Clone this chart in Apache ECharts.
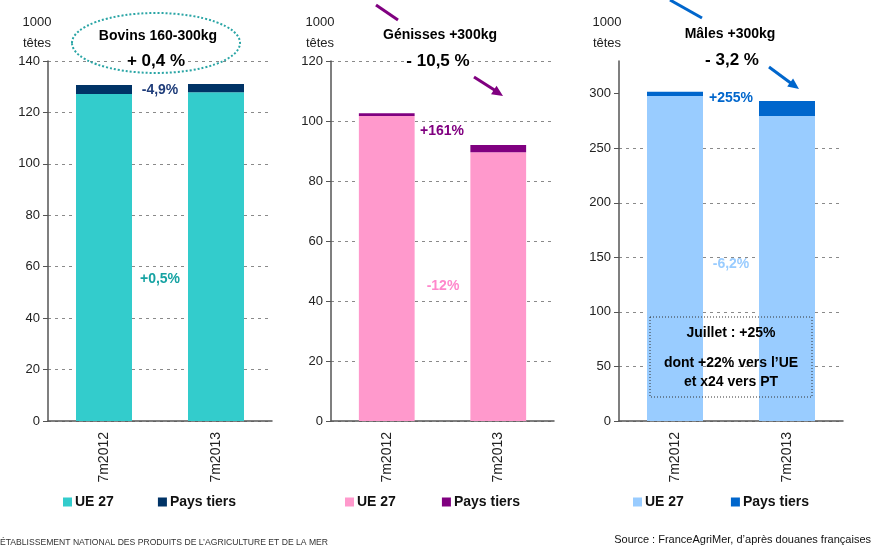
<!DOCTYPE html>
<html>
<head>
<meta charset="utf-8">
<script src="https://cdn.jsdelivr.net/npm/echarts@6/dist/echarts.min.js"></script>
<style>
html,body{margin:0;padding:0;background:#fff;}
#c{width:871px;height:547px;}
</style>
</head>
<body>
<div id="c"></div>
<script>
// valeurs (1000 têtes)
var categories = ['7m2012', '7m2013'];
var bovinsUE = [127.2, 127.8];
var bovinsPT = [3.5, 3.3];
var genissesUE = [101.7, 89.6];
var genissesPT = [0.9, 2.4];
var malesUE = [298, 279.5];
var malesPT = [3.9, 13.8];

var F = 'Liberation Sans, Arial, sans-serif';
var colUE = ['#33CCCC', '#FF99CC', '#99CCFF'];
var colPT = ['#003366', '#800080', '#0066CC'];
var legendNames = {ue0: 'UE 27', pt0: 'Pays tiers', ue1: 'UE 27', pt1: 'Pays tiers', ue2: 'UE 27', pt2: 'Pays tiers'};

var grids = [
  {left: 48, right: 599, top: 61, bottom: 126},
  {left: 331, right: 317, top: 61, bottom: 126},
  {left: 619, right: 28, top: 61, bottom: 126}
];

function xAx(i) {
  return {
    type: 'category', gridIndex: i, data: categories,
    axisLine: {lineStyle: {color: '#555', width: 1.5}},
    axisTick: {length: 5, lineStyle: {color: '#555'}},
    axisLabel: {rotate: 90, margin: 11, color: '#222', fontFamily: F, fontSize: 14}
  };
}
function yAx(i, max, interval) {
  return {
    type: 'value', gridIndex: i, min: 0, max: max, interval: interval,
    axisLine: {show: true, lineStyle: {color: '#555', width: 1.5}},
    axisTick: {show: true, length: 5, lineStyle: {color: '#555'}},
    axisLabel: {margin: 8, color: '#222', fontFamily: F, fontSize: 13},
    splitLine: {show: true, lineStyle: {color: '#8a8a8a', type: [3, 4], width: 1}}
  };
}

// axe des mâles : 0-330, sans graduation au sommet
var y2 = yAx(2, 330, 50);
y2.axisLabel.showMaxLabel = false;
y2.splitLine.showMaxLine = false;
y2.axisTick.customValues = [0, 50, 100, 150, 200, 250, 300];

function bars(i, ue, pt) {
  return [
    {name: 'ue' + i, type: 'bar', stack: 's' + i, xAxisIndex: i, yAxisIndex: i, data: ue,
     barWidth: '50%', itemStyle: {color: colUE[i]}},
    {name: 'pt' + i, type: 'bar', stack: 's' + i, xAxisIndex: i, yAxisIndex: i, data: pt,
     barWidth: '50%', itemStyle: {color: colPT[i]}}
  ];
}

function leg(i, left, gap) {
  return {
    left: left, top: 490, data: ['ue' + i, 'pt' + i], icon: 'rect',
    itemWidth: 9, itemHeight: 9, itemGap: gap, selectedMode: false,
    formatter: function (n) { return legendNames[n]; },
    textStyle: {fontFamily: F, fontSize: 14, fontWeight: 'bold', color: '#111', padding: [0, 0, 0, -2]}
  };
}

function txt(x, y, s, size, color, weight, bg) {
  var st = {text: s, x: 0, y: 0, align: 'center', verticalAlign: 'middle',
    font: (weight || 'bold') + ' ' + size + 'px ' + F, fill: color};
  if (bg) { st.backgroundColor = '#fff'; st.padding = [0, 2]; }
  return {type: 'text', x: x, y: y, z: 100, style: st};
}
function seg(x1, y1, x2, y2, c) {
  return {type: 'line', z: 100, shape: {x1: x1, y1: y1, x2: x2, y2: y2}, style: {stroke: c, lineWidth: 3}};
}
function head(x1, y1, x2, y2, c) {
  var a = Math.atan2(y2 - y1, x2 - x1), L = 11, W = 5;
  var bx = x2 - L * Math.cos(a), by = y2 - L * Math.sin(a);
  return {type: 'polygon', z: 100, shape: {points: [[x2, y2],
    [bx + W * Math.sin(a), by - W * Math.cos(a)], [bx - W * Math.sin(a), by + W * Math.cos(a)]]},
    style: {fill: c}};
}

var graphics = [
  txt(37, 22, '1000', 13, '#222', 'normal'), txt(37, 43, 'têtes', 13, '#222', 'normal'),
  txt(320, 22, '1000', 13, '#222', 'normal'), txt(320, 43, 'têtes', 13, '#222', 'normal'),
  txt(607, 22, '1000', 13, '#222', 'normal'), txt(607, 43, 'têtes', 13, '#222', 'normal'),
  txt(156, 61, '+ 0,4 %', 17, '#000', 'bold', true),
  {type: 'ellipse', z: 100, shape: {cx: 156, cy: 43, rx: 84, ry: 30},
   style: {fill: 'none', stroke: '#2AA5A5', lineWidth: 2, lineDash: [2, 2]}},
  txt(158, 36, 'Bovins 160-300kg', 14, '#000'),
  seg(376, 5, 398, 20, '#800080'), seg(474, 77, 496, 91, '#800080'), head(474, 77, 503, 96, '#800080'),
  txt(440, 35, 'Génisses +300kg', 14, '#000'),
  txt(438, 61, '- 10,5 %', 17, '#000', 'bold', true),
  seg(670, 0, 702, 18, '#0066CC'), seg(769, 67, 792, 84, '#0066CC'), head(769, 67, 799, 89, '#0066CC'),
  txt(730, 34, 'Mâles +300kg', 14, '#000'),
  txt(732, 60, '- 3,2 %', 17, '#000'),
  txt(160, 90, '-4,9%', 14, '#1F3D7A'),
  txt(160, 279, '+0,5%', 14, '#16A3A3'),
  txt(442, 131, '+161%', 14, '#800080'),
  txt(443, 286, '-12%', 14, '#FF88CC'),
  txt(731, 98, '+255%', 14, '#0066CC'),
  txt(731, 264, '-6,2%', 14, '#99CCFF'),
  {type: 'rect', z: 100, shape: {x: 650, y: 317, width: 162, height: 80},
   style: {fill: 'none', stroke: '#333', lineWidth: 1, lineDash: [1, 2]}},
  txt(731, 333, 'Juillet : +25%', 14, '#000'),
  txt(731, 363, 'dont +22% vers l\u2019UE', 14, '#000'),
  txt(731, 382, 'et x24 vers PT', 14, '#000'),
  {type: 'text', x: 0, y: 543, z: 100, style: {text: '\u00c9TABLISSEMENT NATIONAL DES PRODUITS DE L\u2019AGRICULTURE ET DE LA MER',
    x: 0, y: 0, verticalAlign: 'middle', font: '8.6px ' + F, fill: '#333'}},
  {type: 'text', x: 871, y: 540, z: 100, style: {text: 'Source : FranceAgriMer, d\u2019apr\u00e8s douanes fran\u00e7aises',
    x: 0, y: 0, align: 'right', verticalAlign: 'middle', font: '11px ' + F, fill: '#111'}}
];

var chart = echarts.init(document.getElementById('c'));
chart.setOption({
  animation: false,
  backgroundColor: '#fff',
  grid: grids,
  xAxis: [xAx(0), xAx(1), xAx(2)],
  yAxis: [yAx(0, 140, 20), yAx(1, 120, 20), y2],
  legend: [leg(0, 58, 44), leg(1, 340, 46), leg(2, 628, 47)],
  series: [].concat(bars(0, bovinsUE, bovinsPT), bars(1, genissesUE, genissesPT), bars(2, malesUE, malesPT)),
  graphic: graphics
});
</script>
</body>
</html>
